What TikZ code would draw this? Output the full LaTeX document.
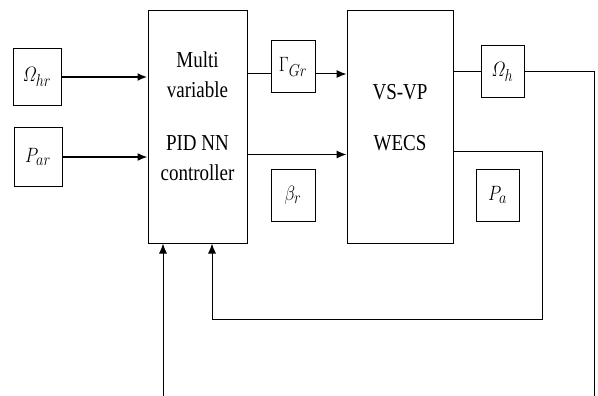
\documentclass[tikz,border=0pt]{standalone}
\usepackage{amsmath}
\usepackage{graphicx}
\usepackage{fontspec}
\setmainfont{Liberation Serif}
\usetikzlibrary{arrows.meta}

% tall narrow lettering
\newcommand\stretchtxt[1]{\scalebox{1}[1.2]{#1}}

\tikzset{
  blk/.style={draw, line width=1pt, inner sep=0pt},
  sig/.style={blk, minimum width=44pt, minimum height=52pt},
  arr/.style={-{Latex[length=10pt,width=8pt]}, line width=1pt},
  lbl/.style={anchor=base, inner sep=0pt}
}

\begin{document}
\begin{tikzpicture}[x=1pt, y=-1pt, font=\fontsize{19}{22}\selectfont]
  \useasboundingbox (0,0) rectangle (598,396);

  % Controller and turbine blocks
  \node[blk, minimum width=99pt, minimum height=232pt] (ctrl) at (197.5,127) {};
  \node[lbl] (ctrlA) at (197.5,68) {\stretchtxt{Multi}};
  \node[lbl] (ctrlB) at (197.5,98) {\stretchtxt{variable}};
  \node[lbl] (ctrlC) at (197.5,150) {\stretchtxt{PID NN}};
  \node[lbl] (ctrlD) at (197.5,180) {\stretchtxt{controller}};

  \node[blk, minimum width=106pt, minimum height=232pt] (plant) at (400,127) {};
  \node[lbl] (plantA) at (400,100) {\stretchtxt{VS-VP}};
  \node[lbl] (plantB) at (400,150) {\stretchtxt{WECS}};

  % Reference inputs
  \node[sig, minimum width=48pt, minimum height=57pt] (Ohr) at (37,77) {\stretchtxt{$\varOmega_{hr}$}};
  \node[sig, minimum width=48pt, minimum height=58pt] (Par) at (38,157) {\stretchtxt{$P_{ar}$}};

  % Controller outputs
  \node[sig] (Ggr) at (293,67) {\stretchtxt{$\Gamma_{Gr}$}};
  \node[sig] (br) at (293,195) {\stretchtxt{$\beta_r$}};

  % Turbine outputs
  \node[sig, minimum width=43pt] (Oh) at (502.5,72) {\stretchtxt{$\varOmega_h$}};
  \node[sig, minimum width=43pt] (Pa) at (497.5,195) {\stretchtxt{$P_a$}};

  \draw[arr, line width=2pt] (Ohr.east) -- (Ohr.east -| ctrl.west);
  \draw[arr, line width=1.5pt] (Par.east) -- (Par.east -| ctrl.west);

  \coordinate (gin) at ([yshift=-7pt]Ggr.west);
  \coordinate (gout) at ([yshift=-7pt]Ggr.east);
  \draw[line width=1pt] (gin -| ctrl.east) -- (gin);
  \draw[arr] (gout) -- (gout -| plant.west);

  \coordinate (bin) at ([yshift=14pt]br.north -| ctrl.east);
  \draw[arr] (bin) -- (bin -| plant.west);

  % Speed output and feedback lines
  \coordinate (oend) at (594,396);
  \draw[line width=1pt] (Oh.west -| plant.east) -- (Oh.west);
  \draw[line width=1pt] (Oh.east) -| (oend);

  \coordinate (pout) at ([yshift=17pt]Pa.north -| plant.east);
  \coordinate (fb) at (542,319);
  \draw[arr] (pout) -| (fb) -| ([xshift=14.5pt]ctrl.south);

  \coordinate (pin) at (163,396);
  \draw[arr] (pin) -- (pin |- ctrl.south);
\end{tikzpicture}
\end{document}
